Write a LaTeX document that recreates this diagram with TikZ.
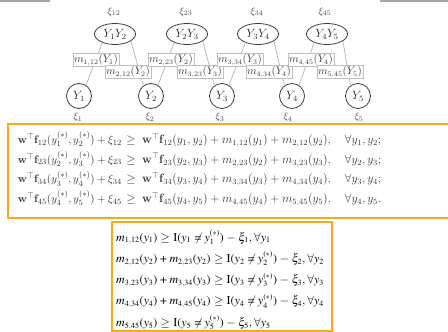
\documentclass[tikz,border=0pt]{standalone}
\usepackage{amsmath,amssymb}
\usetikzlibrary{shapes.geometric}
\DeclareMathVersion{times}
\SetSymbolFont{operators}{times}{OT1}{ptm}{m}{n}
\SetSymbolFont{letters}{times}{OML}{ztmcm}{m}{it}
\SetSymbolFont{symbols}{times}{OMS}{ztmcm}{m}{n}
\SetSymbolFont{largesymbols}{times}{OMX}{ztmcm}{m}{n}
\definecolor{boxorange}{RGB}{243,172,32}
\definecolor{edgegray}{RGB}{185,185,185}
\definecolor{txtgray}{RGB}{60,60,60}
\tikzset{
  ell/.style={ellipse, draw=txtgray, line width=0.8pt, minimum width=41pt, minimum height=21pt, inner sep=0pt, font=\fontsize{12}{14}\selectfont, text=black!85},
  cir/.style={circle, draw=txtgray, line width=0.8pt, minimum size=25pt, inner sep=0pt, font=\fontsize{12}{14}\selectfont, text=black!85},
  xil/.style={inner sep=0pt, font=\fontsize{10}{12}\selectfont, text=txtgray},
  edge/.style={draw=edgegray, line width=0.8pt},
  lab/.style={draw=black!25, fill=white, line width=0.6pt, inner sep=1pt, font=\fontsize{10.5}{12}\selectfont, text=txtgray},
  frame/.style={draw=boxorange, line width=1.8pt},
  eqa/.style={inner sep=0pt, font=\fontsize{11}{13}\selectfont, text=black!80},
  eqr/.style={inner sep=0pt, font=\fontsize{12}{14}\selectfont, text=black!80},
  eqb/.style={inner sep=0pt, anchor=base west, font=\fontsize{12}{14}\selectfont\mathversion{times}, text=black}
}
\begin{document}
\begin{tikzpicture}[x=1pt,y=-1pt]
\useasboundingbox (0,0) rectangle (448,332);
\clip (0,0) rectangle (448,332);
% artifacts at the top
\fill[gray!70] (0,0) rectangle (50,2);
\fill[gray!70] (380,0) rectangle (448,2);
% factor nodes
\node[ell] (e12) at (115,34) {$Y_1Y_2$};
\node[ell] (e23) at (187,34) {$Y_2Y_3$};
\node[ell] (e34) at (258,34) {$Y_3Y_4$};
\node[ell] (e45) at (327,34) {$Y_4Y_5$};
\node[xil] (x12) at (114,12) {$\xi_{12}$};
\node[xil] (x23) at (186,12) {$\xi_{23}$};
\node[xil] (x34) at (257,12) {$\xi_{34}$};
\node[xil] (x45) at (325,12) {$\xi_{45}$};
% variable nodes
\node[cir] (y1) at (79,96) {$Y_1$};
\node[cir] (y2) at (151,96) {$Y_2$};
\node[cir] (y3) at (222,96) {$Y_3$};
\node[cir] (y4) at (292,96) {$Y_4$};
\node[cir] (y5) at (358,96) {$Y_5$};
\node[xil] (x1) at (78,117) {$\xi_1$};
\node[xil] (x2) at (150,117) {$\xi_2$};
\node[xil] (x3) at (220,117) {$\xi_3$};
\node[xil] (x4) at (288,117) {$\xi_4$};
\node[xil] (x5) at (359,117) {$\xi_5$};
% edges
\draw[edge] (e12.214) -- (y1.57);
\draw[edge] (e12.-24) -- (y2.126);
\draw[edge] (e23.214) -- (y2.57);
\draw[edge] (e23.-24) -- (y3.126);
\draw[edge] (e34.214) -- (y3.57);
\draw[edge] (e34.-24) -- (y4.126);
\draw[edge] (e45.214) -- (y4.57);
\draw[edge] (e45.-24) -- (y5.126);
% message labels
\node[lab] (m112) at (96,60) {$m_{1,12}(Y_1)$};
\node[lab] (m212) at (128,72) {$m_{2,12}(Y_2)$};
\node[lab] (m223) at (171,60) {$m_{2,23}(Y_2)$};
\node[lab] (m323) at (200,72) {$m_{3,23}(Y_3)$};
\node[lab] (m334) at (240,60) {$m_{3,34}(Y_3)$};
\node[lab] (m434) at (269,72) {$m_{4,34}(Y_4)$};
\node[lab] (m445) at (311,60) {$m_{4,45}(Y_4)$};
\node[lab] (m545) at (340,72) {$m_{5,45}(Y_5)$};
% first box
\draw[frame] (8,124) rectangle (460,218);
\foreach \a/\b/\p [count=\i] in {1/2/;,2/3/;,3/4/;,4/5/.}{
  \node[eqa, anchor=base east] (la\i) at (122,{143.5+19.7*(\i-1)}) {$\mathbf{w}^{\top}\mathbf{f}_{\a\b}(y_{\a}^{(*)},y_{\b}^{(*)})+\xi_{\a\b}$};
  \node[eqr, anchor=base] (ga\i) at (131,{143.5+19.7*(\i-1)}) {$\geq$};
  \node[eqr, anchor=base west] (ra\i) at (142,{143.5+19.7*(\i-1)}) {$\mathbf{w}^{\top}\mathbf{f}_{\a\b}(y_{\a},y_{\b})+m_{\a,\a\b}(y_{\a})+m_{\b,\a\b}(y_{\b}),\quad\forall y_{\a},y_{\b}\p$};
}
% second box
\draw[frame] (112,222) rectangle (332,331);
\node[eqb] (b1) at (116,241) {$m_{1,12}(y_1)\geq \mathrm{I}(y_1\neq y_1^{(*)})-\xi_1,\forall y_1$};
\node[eqb] (b2) at (116,262.3) {$m_{2,12}(y_2)+m_{2,23}(y_2)\geq \mathrm{I}(y_2\neq y_2^{(*)})-\xi_2,\forall y_2$};
\node[eqb] (b3) at (116,283.6) {$m_{3,23}(y_3)+m_{3,34}(y_3)\geq \mathrm{I}(y_3\neq y_3^{(*)})-\xi_3,\forall y_3$};
\node[eqb] (b4) at (116,304.9) {$m_{4,34}(y_4)+m_{4,45}(y_4)\geq \mathrm{I}(y_4\neq y_4^{(*)})-\xi_4,\forall y_4$};
\node[eqb] (b5) at (116,326.2) {$m_{5,45}(y_5)\geq \mathrm{I}(y_5\neq y_5^{(*)})-\xi_5,\forall y_5$};
\end{tikzpicture}
\end{document}
